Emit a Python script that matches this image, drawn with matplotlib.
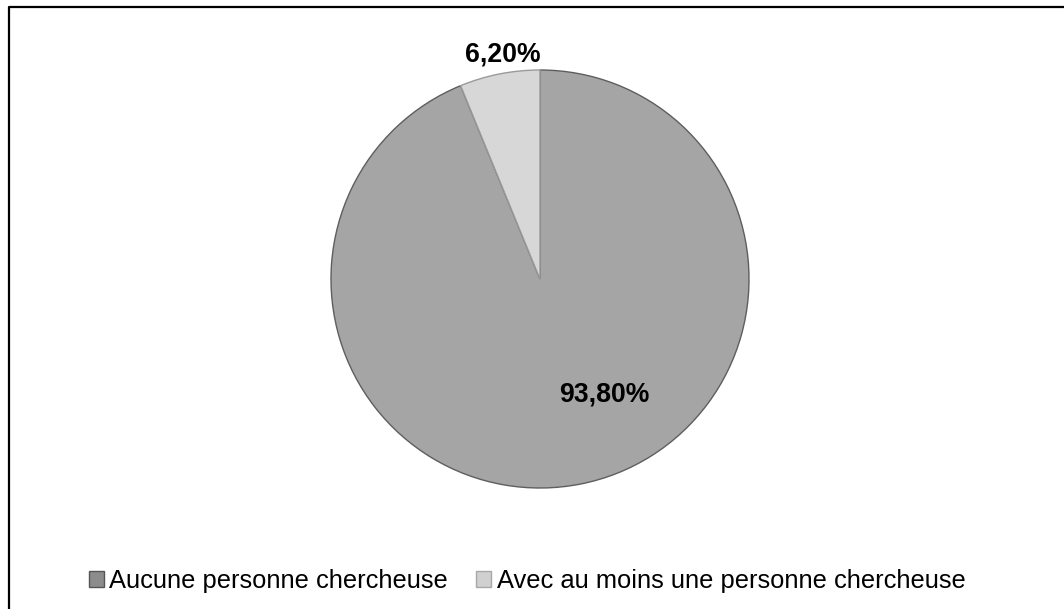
import matplotlib
matplotlib.use("Agg")
import matplotlib.pyplot as plt
from matplotlib.patches import Patch
from matplotlib.lines import Line2D

categories = ["Aucune personne chercheuse", "Avec au moins une personne chercheuse"]
values = [93.8, 6.2]
labels = ["93,80%", "6,20%"]
colors = ["#a5a5a5", "#d7d7d7"]
legend_colors = ["#8c8c8c", "#d0d0d0"]
legend_edges = ["#555555", "#a8a8a8"]

plt.rcParams['font.family'] = ['Liberation Sans', 'DejaVu Sans']

W, H = 1064, 609
fig = plt.figure(figsize=(W / 100, H / 100), dpi=100)
fig.patch.set_facecolor("white")

cx, cy, r = 540, H - 279, 209
ax = fig.add_axes([(cx - r) / W, (cy - r) / H, 2 * r / W, 2 * r / H])
wedges, _ = ax.pie(values, colors=colors, startangle=90, counterclock=False,
                   radius=1.0,
                   wedgeprops=dict(edgecolor="#5e5e5e", linewidth=1.0))
wedges[1].set_edgecolor("#9a9a9a")
ax.set_xlim(-1.0, 1.0)
ax.set_ylim(-1.0, 1.0)
ax.set_aspect("equal")
ax.axis("off")

label_pos = [(0.31, -0.555), (-0.177, 1.075)]
for lab, (x, y) in zip(labels, label_pos):
    ax.text(x, y, lab, ha="center", va="center", fontsize=19.2,
            fontweight="bold", color="black", clip_on=False)

# frame
fig.add_artist(Line2D([9 / W, 9 / W, 1.05], [-0.05, (H - 6.5) / H, (H - 6.5) / H],
                      transform=fig.transFigure, color="black", linewidth=1.6))

handles = [Patch(facecolor=c, edgecolor=e, linewidth=1.0)
           for c, e in zip(legend_colors, legend_edges)]
fig.legend(handles, categories, loc="center", bbox_to_anchor=(527 / W, (H - 581) / H),
           ncol=2, frameon=False, fontsize=18.4, handlelength=0.6, handleheight=0.6,
           handletextpad=0.2, columnspacing=1.1)

fig.savefig("out.png", dpi=100)
